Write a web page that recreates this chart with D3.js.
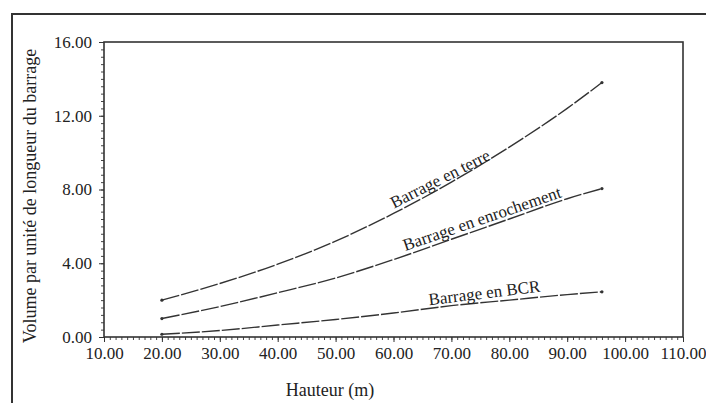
<!DOCTYPE html>
<html>
<head>
<meta charset="utf-8">
<script src="https://cdn.jsdelivr.net/npm/d3@7"></script>
<style>
  body { margin: 0; background: #fff; }
  text { font-family: "Liberation Serif", "Times New Roman", serif; fill: #222; }
</style>
</head>
<body>
<script>
// values
var hauteur = [20, 30, 40, 50, 60, 70, 80, 90, 96];
var terre = [2.0, 2.9, 3.95, 5.2, 6.7, 8.4, 10.3, 12.4, 13.8];
var enrochement = [1.0, 1.65, 2.4, 3.2, 4.2, 5.3, 6.4, 7.5, 8.05];
var bcr = [0.15, 0.35, 0.65, 0.95, 1.3, 1.7, 2.0, 2.3, 2.45];
var xTicks = [10, 20, 30, 40, 50, 60, 70, 80, 90, 100, 110];
var yTicks = [0, 4, 8, 12, 16];
var seriesNames = ["Barrage en terre", "Barrage en enrochement", "Barrage en BCR"];

var W = 706, H = 403;
var plotL = 104, plotT = 42, plotR = 683, plotB = 337;

var svg = d3.select('body').append('svg')
    .attr('width', W)
    .attr('height', H);

// outer frame of the scanned page
svg.append('path')
    .attr('d', 'M12,' + H + ' L12,14 L' + W + ',14')
    .attr('fill', 'none')
    .attr('stroke', '#333')
    .attr('stroke-width', 2);

var x = d3.scaleLinear().domain([10, 110]).range([plotL, plotR]);
var y = d3.scaleLinear().domain([0, 16]).range([plotB, plotT]);

// minor ticks
svg.append('g')
    .attr('transform', 'translate(0,' + plotB + ')')
    .call(d3.axisBottom(x).tickValues(d3.range(10, 111, 1)).tickSize(3).tickFormat(''))
    .call(function(g) { g.select('.domain').remove(); })
    .selectAll('line').attr('stroke', '#444');
svg.append('g')
    .attr('transform', 'translate(' + plotL + ',0)')
    .call(d3.axisLeft(y).tickValues(d3.range(0, 16.01, 0.4)).tickSize(3).tickFormat(''))
    .call(function(g) { g.select('.domain').remove(); })
    .selectAll('line').attr('stroke', '#444');

// major ticks + labels
var xAxis = svg.append('g')
    .attr('transform', 'translate(0,' + plotB + ')')
    .call(d3.axisBottom(x).tickValues(xTicks).tickSize(5).tickPadding(5).tickFormat(d3.format('.2f')));
xAxis.select('.domain').remove();
xAxis.selectAll('text').style('font-size', '17px').style('font-family', '"Liberation Serif", serif').attr('fill', '#222');
xAxis.selectAll('line').attr('stroke', '#333');

var yAxis = svg.append('g')
    .attr('transform', 'translate(' + plotL + ',0)')
    .call(d3.axisLeft(y).tickValues(yTicks).tickSize(5).tickPadding(7).tickFormat(d3.format('.2f')));
yAxis.select('.domain').remove();
yAxis.selectAll('text').style('font-size', '17px').style('font-family', '"Liberation Serif", serif').attr('fill', '#222');
yAxis.selectAll('line').attr('stroke', '#333');

// plot box
svg.append('rect')
    .attr('x', plotL).attr('y', plotT)
    .attr('width', plotR - plotL).attr('height', plotB - plotT)
    .attr('fill', 'none')
    .attr('stroke', '#333')
    .attr('stroke-width', 1.6);

// curves
var line = d3.line()
    .x(function(d) { return x(d[0]); })
    .y(function(d) { return y(d[1]); })
    .curve(d3.curveMonotoneX);

[terre, enrochement, bcr].forEach(function(vals) {
  var pts = hauteur.map(function(h, i) { return [h, vals[i]]; });
  svg.append('path')
      .datum(pts)
      .attr('d', line)
      .attr('fill', 'none')
      .attr('stroke', '#333')
      .attr('stroke-width', 1.4)
      .attr('stroke-dasharray', '18,2');
  svg.selectAll(null)
      .data([pts[0], pts[pts.length - 1]])
      .enter().append('circle')
      .attr('cx', function(d) { return x(d[0]); })
      .attr('cy', function(d) { return y(d[1]); })
      .attr('r', 1.6)
      .attr('fill', '#333');
});

// curve labels (placed along each curve)
var labelPos = [
  {h: 68.5, v: terre, dy: -3, rot: -27},
  {h: 75.6, v: enrochement, dy: -4, rot: -19},
  {h: 75.8, v: bcr, dy: -4, rot: -7}
];
labelPos.forEach(function(p, i) {
  var yv = d3.scaleLinear().domain(hauteur).range(p.v)(p.h);
  svg.append('text')
      .attr('transform', 'translate(' + x(p.h) + ',' + (y(yv) + p.dy) + ') rotate(' + p.rot + ')')
      .attr('text-anchor', 'middle')
      .style('font-size', '17px')
      .text(seriesNames[i]);
});

// axis titles
svg.append('text')
    .attr('x', 330).attr('y', 396)
    .attr('text-anchor', 'middle')
    .style('font-size', '18px')
    .text('Hauteur (m)');

svg.append('text')
    .attr('transform', 'translate(36,' + 196 + ') rotate(-90)')
    .attr('text-anchor', 'middle')
    .style('font-size', '18px')
    .text('Volume par unité de longueur du barrage');
</script>
</body>
</html>
